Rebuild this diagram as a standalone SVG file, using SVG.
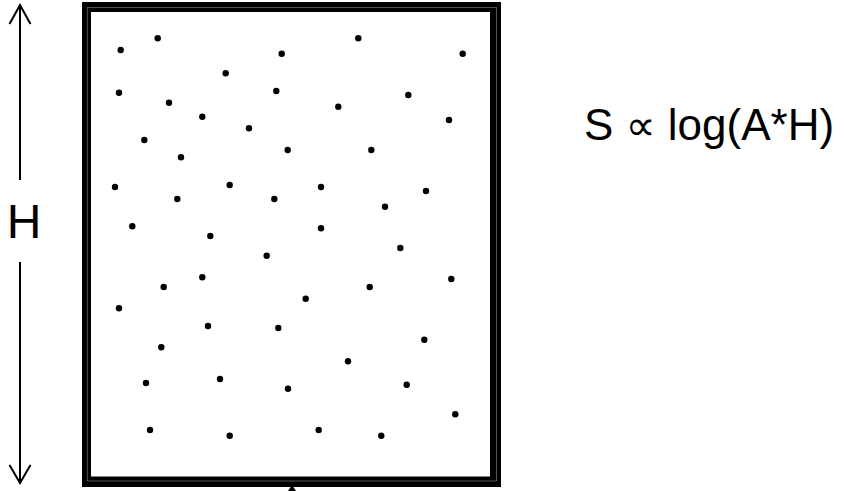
<svg xmlns="http://www.w3.org/2000/svg" width="844" height="491" viewBox="0 0 844 491">
<style>
.dot{fill:#000}
.lbl{font-family:"Liberation Sans",Arial,sans-serif;fill:#000}
.ln{stroke:#000;stroke-width:2;fill:none}
</style>
<rect width="844" height="491" fill="#fff"/>
<g id="box">
<rect x="82" y="2" width="419" height="485" fill="#000"/>
<rect x="91" y="12" width="399" height="464.5" fill="#fff"/>
<path d="M87.3,481 V7.5 H496.5 V481 Z" fill="none" stroke="#fff" stroke-width="0.6" stroke-opacity="0.55"/>
<polygon points="292,485 288,491 296,491" fill="#000"/>
</g>
<g id="dots">
<circle class="dot" cx="120.7" cy="50" r="3.2"/>
<circle class="dot" cx="157.7" cy="38.3" r="3.2"/>
<circle class="dot" cx="281.7" cy="53.7" r="3.2"/>
<circle class="dot" cx="358.3" cy="38.3" r="3.2"/>
<circle class="dot" cx="462.7" cy="53.7" r="3.2"/>
<circle class="dot" cx="225.7" cy="73.3" r="3.2"/>
<circle class="dot" cx="119" cy="92.7" r="3.2"/>
<circle class="dot" cx="169" cy="102.7" r="3.2"/>
<circle class="dot" cx="276.3" cy="91" r="3.2"/>
<circle class="dot" cx="202.3" cy="116.7" r="3.2"/>
<circle class="dot" cx="338.3" cy="106.7" r="3.2"/>
<circle class="dot" cx="408.3" cy="95" r="3.2"/>
<circle class="dot" cx="449" cy="120" r="3.2"/>
<circle class="dot" cx="249" cy="128.3" r="3.2"/>
<circle class="dot" cx="144.3" cy="140" r="3.2"/>
<circle class="dot" cx="181" cy="157.3" r="3.2"/>
<circle class="dot" cx="287.7" cy="150" r="3.2"/>
<circle class="dot" cx="371.3" cy="150" r="3.2"/>
<circle class="dot" cx="115" cy="187" r="3.2"/>
<circle class="dot" cx="177.3" cy="199" r="3.2"/>
<circle class="dot" cx="229.7" cy="185" r="3.2"/>
<circle class="dot" cx="274.3" cy="199" r="3.2"/>
<circle class="dot" cx="321" cy="187" r="3.2"/>
<circle class="dot" cx="426" cy="191" r="3.2"/>
<circle class="dot" cx="385" cy="206.7" r="3.2"/>
<circle class="dot" cx="132.3" cy="226.3" r="3.2"/>
<circle class="dot" cx="210.3" cy="236" r="3.2"/>
<circle class="dot" cx="321" cy="228.3" r="3.2"/>
<circle class="dot" cx="400.3" cy="248" r="3.2"/>
<circle class="dot" cx="266.7" cy="255.7" r="3.2"/>
<circle class="dot" cx="202.3" cy="277.3" r="3.2"/>
<circle class="dot" cx="163.7" cy="287" r="3.2"/>
<circle class="dot" cx="451.3" cy="279" r="3.2"/>
<circle class="dot" cx="369.7" cy="287" r="3.2"/>
<circle class="dot" cx="305.7" cy="298.7" r="3.2"/>
<circle class="dot" cx="119" cy="308.3" r="3.2"/>
<circle class="dot" cx="208" cy="326" r="3.2"/>
<circle class="dot" cx="278.3" cy="328" r="3.2"/>
<circle class="dot" cx="424.3" cy="339.7" r="3.2"/>
<circle class="dot" cx="161.3" cy="347.3" r="3.2"/>
<circle class="dot" cx="348" cy="361.3" r="3.2"/>
<circle class="dot" cx="146" cy="383" r="3.2"/>
<circle class="dot" cx="220" cy="379" r="3.2"/>
<circle class="dot" cx="288" cy="388.7" r="3.2"/>
<circle class="dot" cx="406.7" cy="384.7" r="3.2"/>
<circle class="dot" cx="455.3" cy="414.3" r="3.2"/>
<circle class="dot" cx="150" cy="430" r="3.2"/>
<circle class="dot" cx="229.7" cy="435.7" r="3.2"/>
<circle class="dot" cx="318.7" cy="430" r="3.2"/>
<circle class="dot" cx="381.3" cy="435.7" r="3.2"/>
</g>
<g id="connectors">
<line class="ln" x1="20" y1="180" x2="20" y2="6"/>
<path class="ln" d="M9.5,24 L20,5 L30.5,24"/>
<line class="ln" x1="20" y1="262" x2="20" y2="482"/>
<path class="ln" d="M9.5,465 L20,483 L30.5,465"/>
</g>
<g id="label-H">
<text class="lbl" x="24" y="238" font-size="48" text-anchor="middle">H</text>
</g>
<g id="formula">
<text class="lbl" x="584" y="140" font-size="44">S <tspan font-family="DejaVu Sans" font-size="42">∝</tspan> log(A*H)</text>
</g>
</svg>
